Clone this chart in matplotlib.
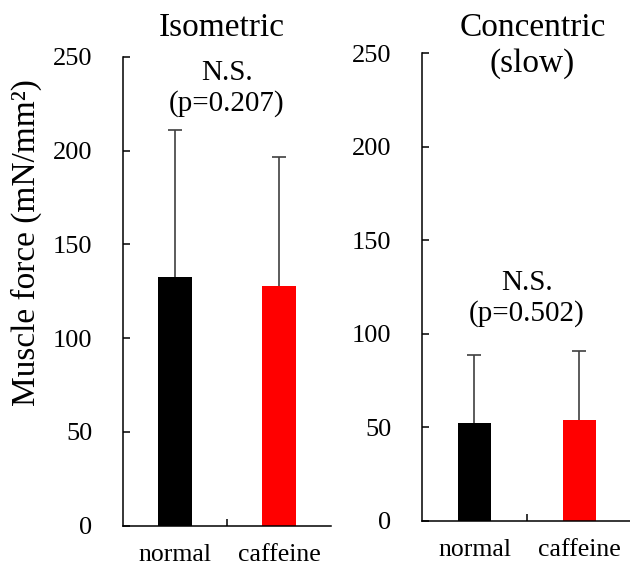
import numpy as np
import matplotlib.pyplot as plt

plt.rcParams['font.family'] = ['Liberation Serif', 'DejaVu Serif']

# Datos
groups = ["normal", "caffeine"]
colors = ["black", "red"]
iso_mean = [132.7, 127.9]
iso_sd = [78.5, 69.0]
con_mean = [52.4, 53.7]
con_sd = [36.4, 36.9]
p_iso = "N.S.\n(p=0.207)"
p_con = "N.S.\n(p=0.502)"

fig = plt.figure(figsize=(6.3, 5.67), dpi=100)
ax1 = fig.add_axes([0.1952, 0.0728, 0.3302, 0.8267])
ax2 = fig.add_axes([0.6698, 0.0817, 0.3333, 0.8248])

xpos = np.array([0.5, 1.5])

def panel(ax, mean, sd, ptext, ptext_y):
    ax.bar(xpos, mean, width=0.32, color=colors)
    eb = ax.errorbar(xpos, mean, yerr=[np.zeros(2), sd], fmt='none',
                     ecolor='#404040', elinewidth=1.2, capsize=5, capthick=1.2)
    # solo la tapa superior
    eb[1][0].set_visible(False)
    ax.set_xlim(0, 2)
    ax.set_ylim(0, 250)
    ax.set_yticks(np.arange(0, 251, 50))
    ax.set_xticks(xpos)
    ax.set_xticklabels(groups, fontsize=18.5)
    ax.set_xticks([1], minor=True)
    ax.tick_params(axis='x', which='major', length=0, pad=13)
    ax.tick_params(axis='x', which='minor', direction='in', length=5, width=1.1)
    ax.tick_params(axis='y', direction='in', length=5, width=1.1,
                   labelsize=19, pad=22)
    for s in ['top', 'right']:
        ax.spines[s].set_visible(False)
    for s in ['left', 'bottom']:
        ax.spines[s].set_linewidth(1.1)
    ax.text(1, ptext_y, ptext, ha='center', va='center', fontsize=21,
            linespacing=1.2)

panel(ax1, iso_mean, iso_sd, p_iso, 233)
panel(ax2, con_mean, con_sd, p_con, 119)

fig.text(0.352, 1 - 28 / 567, "Isometric", ha='center', va='center', fontsize=24)
fig.text(0.845, 1 - 46 / 567, "Concentric\n(slow)", ha='center', va='center',
         fontsize=24, linespacing=1.2)
fig.text(0.042, 1 - 243 / 567, "Muscle force (mN/mm²)", rotation=90,
         ha='center', va='center', fontsize=24)

fig.savefig("out.png", dpi=100)
